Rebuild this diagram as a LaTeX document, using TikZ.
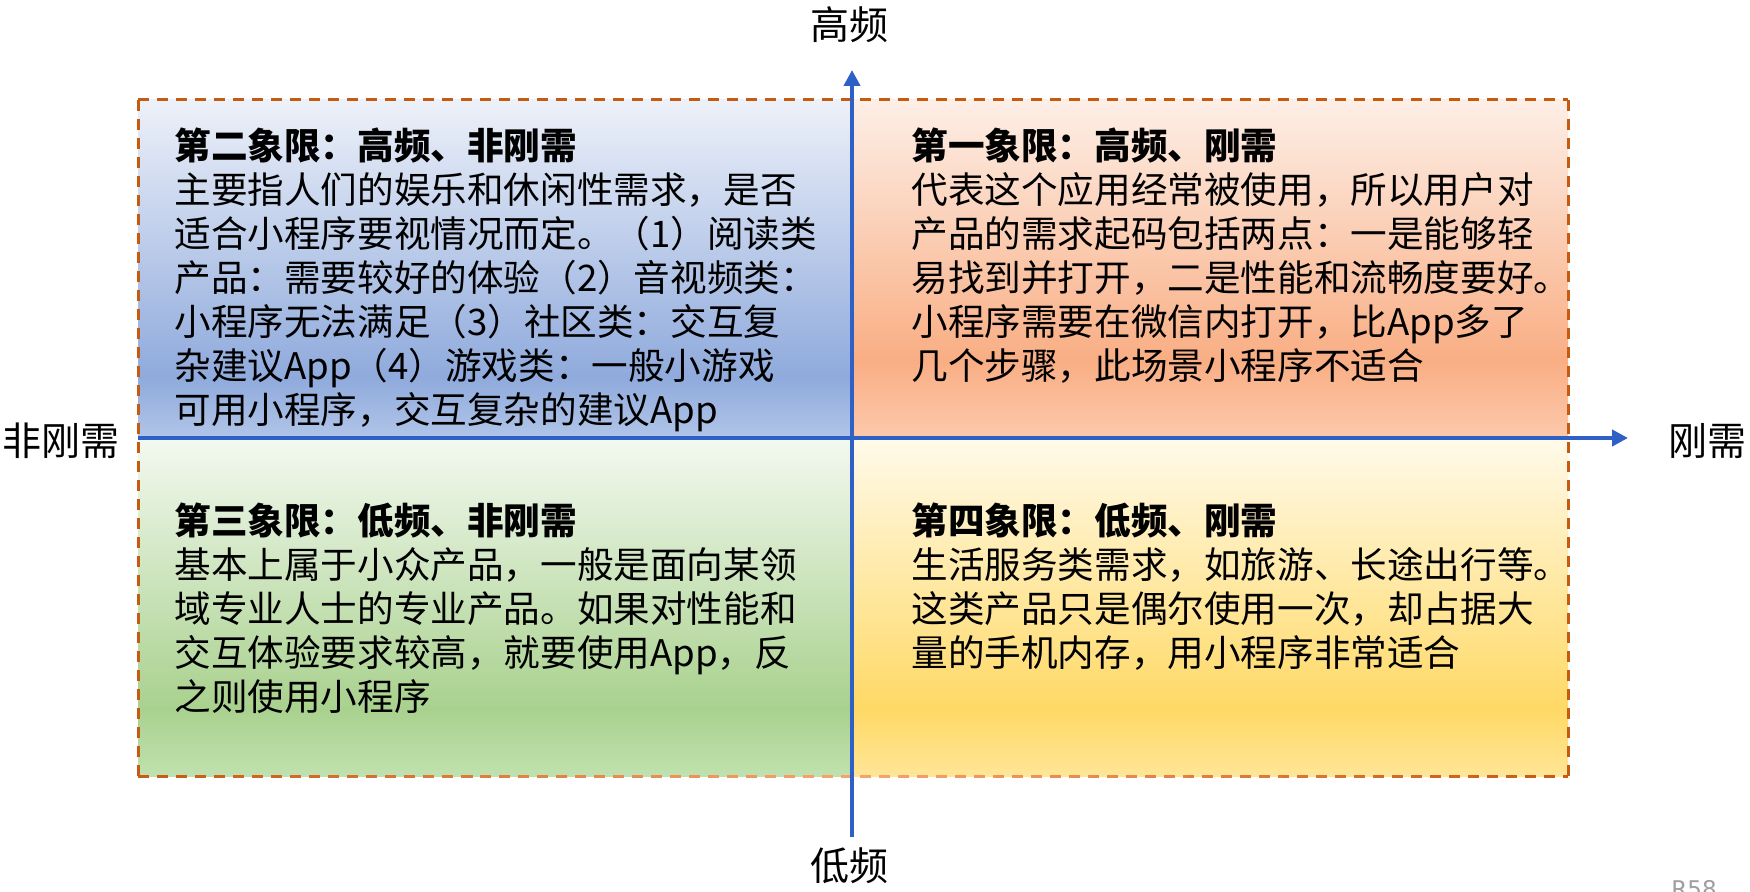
\documentclass[tikz,border=0pt]{standalone}
\usepackage{fontspec}
\newfontfamily\cjk{Noto Sans CJK SC}
\newfontfamily\latinsans{DejaVu Sans}
\usetikzlibrary{arrows.meta}
\definecolor{qtwoa}{HTML}{EDF1F9}
\definecolor{qtwob}{HTML}{8FAADC}
\definecolor{qtwoc}{HTML}{B1C5E8}
\definecolor{qonea}{HTML}{FDEFE7}
\definecolor{qoneb}{HTML}{F9AE84}
\definecolor{qonec}{HTML}{FCC9AC}
\definecolor{qthreea}{HTML}{F3F9F0}
\definecolor{qthreeb}{HTML}{A9D18E}
\definecolor{qthreec}{HTML}{C0E1AE}
\definecolor{qfoura}{HTML}{FFFAEA}
\definecolor{qfourb}{HTML}{FFD966}
\definecolor{qfourc}{HTML}{FFE596}
\definecolor{bdark}{HTML}{C55A11}
\definecolor{blight}{HTML}{F8A46E}
\definecolor{axisblue}{HTML}{2E60C6}
\pgfdeclareverticalshading{qtwoshade}{100bp}{color(0bp)=(qtwoc); color(25bp)=(qtwoc); color(34bp)=(qtwob); color(75bp)=(qtwoa); color(100bp)=(qtwoa)}
\pgfdeclareverticalshading{qoneshade}{100bp}{color(0bp)=(qonec); color(25bp)=(qonec); color(36.5bp)=(qoneb); color(75bp)=(qonea); color(100bp)=(qonea)}
\pgfdeclareverticalshading{qthreeshade}{100bp}{color(0bp)=(qthreec); color(25bp)=(qthreec); color(35bp)=(qthreeb); color(75bp)=(qthreea); color(100bp)=(qthreea)}
\pgfdeclareverticalshading{qfourshade}{100bp}{color(0bp)=(qfourc); color(25bp)=(qfourc); color(35bp)=(qfourb); color(75bp)=(qfoura); color(100bp)=(qfoura)}
\begin{document}
\begin{tikzpicture}[x=0.5pt,y=-0.5pt,
  border/.style={line width=1.5pt, dash pattern=on 5.5pt off 4pt},
  axisline/.style={draw=axisblue, line width=2pt},
  quadtext/.style={font=\cjk\fontsize{18.3}{22}\selectfont, align=left, anchor=base west, inner sep=0pt, text=black},
  axislabel/.style={font=\cjk\fontsize{19.5}{23}\selectfont, inner sep=0pt, text=black}]
\useasboundingbox (0,0) rectangle (1750,892);
\fill[white] (0,0) rectangle (1750,892);
\coordinate (tl) at (138,100);
\coordinate (tr) at (1568,100);
\coordinate (bl) at (138,776);
\coordinate (br) at (1568,776);
\coordinate (o) at (852,438);
\coordinate (vtop) at (852,70);
\coordinate (vbot) at (852,837);
\coordinate (hleft) at (138,438);
\coordinate (hright) at (1628,438);
% quadrant fills
\shade[shading=qtwoshade] (tl) rectangle (o);
\shade[shading=qoneshade] (852,100) rectangle (1568,438);
\shade[shading=qthreeshade] (138,438) rectangle (852,776);
\shade[shading=qfourshade] (o) rectangle (br);
% dashed frame
\draw[border, draw=bdark] (tl) -- (tr);
\draw[border, draw=bdark] (tl) -- (bl);
\draw[border, draw=bdark] (tr) -- (br);
\foreach \i in {0,...,29}{
  \pgfmathsetmacro\xa{138+\i*47.6667}
  \pgfmathsetmacro\xb{138+(\i+1)*47.6667}
  \pgfmathsetmacro\t{100*max(0,1-abs((\xa+\xb)/2-853)/715)}
  \pgfmathsetmacro\ph{mod(\i*23.8333,9.5)}
  \draw[border, draw=blight!\t!bdark, dash phase=\ph pt] (\xa,776) -- (\xb,776);
}
% axes
\draw[axisline, -{Triangle[length=8pt,width=8pt]}] (vbot) -- (vtop);
\draw[axisline, -{Triangle[length=8pt,width=8pt]}] (hleft) -- (hright);
% axis labels
\node[axislabel] (high) at (849,25) {高频};
\node[axislabel] (low) at (849,866) {低频};
\node[axislabel] (nonrigid) at (61,441) {非刚需};
\node[axislabel] (rigid) at (1707,441) {刚需};
% quadrant texts (anchor = baseline of the last line)
\node[quadtext] (q2) at (174,424) {\textbf{第二象限：高频、非刚需}\\
主要指人们的娱乐和休闲性需求，是否\\
适合小程序要视情况而定。（1）阅读类\\
产品：需要较好的体验（2）音视频类：\\
小程序无法满足（3）社区类：交互复\\
杂建议App（4）游戏类：一般小游戏\\
可用小程序，交互复杂的建议App};
\node[quadtext] (q1) at (911,380) {\textbf{第一象限：高频、刚需}\\
代表这个应用经常被使用，所以用户对\\
产品的需求起码包括两点：一是能够轻\\
易找到并打开，二是性能和流畅度要好。\\
小程序需要在微信内打开，比App多了\\
几个步骤，此场景小程序不适合};
\node[quadtext] (q3) at (174,710) {\textbf{第三象限：低频、非刚需}\\
基本上属于小众产品，一般是面向某领\\
域专业人士的专业产品。如果对性能和\\
交互体验要求较高，就要使用App，反\\
之则使用小程序};
\node[quadtext] (q4) at (911,666) {\textbf{第四象限：低频、刚需}\\
生活服务类需求，如旅游、长途出行等。\\
这类产品只是偶尔使用一次，却占据大\\
量的手机内存，用小程序非常适合};
\node[anchor=north west, inner sep=0pt, font=\latinsans\fontsize{11.5}{13}\selectfont, text=black!38] (wm) at (1671,880) {R58};
\end{tikzpicture}
\end{document}
